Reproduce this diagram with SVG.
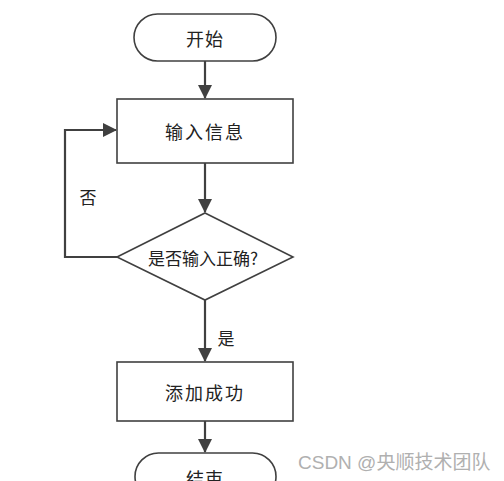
<svg xmlns="http://www.w3.org/2000/svg" width="504" height="481" viewBox="0 0 504 481">
<defs>
<marker id="arr" markerWidth="14" markerHeight="14" viewBox="0 0 14 14" refX="13" refY="7" orient="auto" markerUnits="userSpaceOnUse">
<path d="M0,0 L14,7 L0,14 Z" fill="#404040"/>
</marker>
<style>
.shape{fill:#fff;stroke:#404040;stroke-width:1.6}
.conn{fill:none;stroke:#404040;stroke-width:2.2}
.t{font-family:"Noto Sans CJK SC","Liberation Serif",serif;font-size:18px;fill:#222;text-anchor:middle;dominant-baseline:central}
.wm{font-family:"Liberation Sans","Noto Sans CJK SC",sans-serif;font-size:19px;fill:#b0b0b0}
</style>
</defs>
<rect width="504" height="481" fill="#fff"/>
<g id="connectors">
<path class="conn" d="M205,61 L205,98" marker-end="url(#arr)"/>
<path class="conn" d="M205,163 L205,212" marker-end="url(#arr)"/>
<path class="conn" d="M117,257 L65,257 L65,130 L116,130" marker-end="url(#arr)"/>
<path class="conn" d="M205,300 L205,361" marker-end="url(#arr)"/>
<path class="conn" d="M205,421 L205,452" marker-end="url(#arr)"/>
<text class="t" x="88" y="196" style="font-size:17px">否</text>
<text class="t" x="226" y="337" style="font-size:17px">是</text>
</g>
<g id="start">
<rect class="shape" x="134" y="14" width="142" height="47" rx="23.5"/>
<text class="t" x="205" y="38" letter-spacing="1">开始</text>
</g>
<g id="input">
<rect class="shape" x="117" y="99" width="176" height="64"/>
<text class="t" x="205" y="131" letter-spacing="2">输入信息</text>
</g>
<g id="check">
<polygon class="shape" points="205,213 293,257 205,300 117,257"/>
<text class="t" x="203" y="257" style="font-size:17px">是否输入正确?</text>
</g>
<g id="success">
<rect class="shape" x="117" y="362" width="176" height="59"/>
<text class="t" x="205" y="392" letter-spacing="2">添加成功</text>
</g>
<g id="end">
<rect class="shape" x="135" y="453" width="141" height="47" rx="23.5"/>
<text class="t" x="205" y="478" letter-spacing="1">结束</text>
</g>
<text class="wm" x="298" y="469">CSDN @央顺技术团队</text>
</svg>
